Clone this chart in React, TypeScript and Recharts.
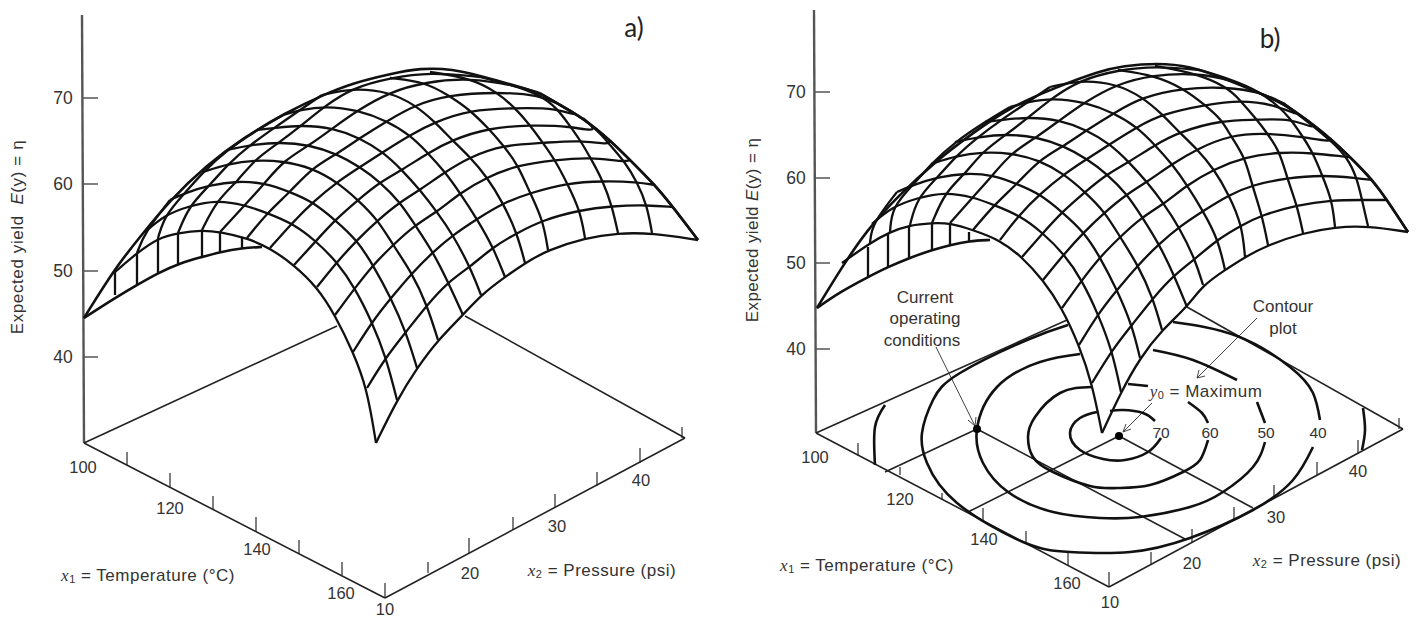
import { ComposedChart, Line, Scatter, XAxis, YAxis } from "recharts";

const WIDTH = 1424;
const HEIGHT = 619;

type Pt = number[];

// surface a): each row is one arc from the front-right edge up to the crest
const meshRowsA: Pt[][] = [
  [[376,443],[367,388],[353,352],[335,315],[317,287],[294,265],[270,248],[247,238],[220,232],[202,230],[178,233],[158,238],[137,253],[115,272]],
  [[397,400],[386,357],[372,322],[355,288],[337,262],[316,241],[292,223],[267,213],[245,205],[217,200],[189,206],[165,215],[145,232]],
  [[417,368],[406,332],[391,298],[373,265],[357,240],[335,220],[313,202],[290,192],[265,183],[238,181],[210,185],[185,193],[170,200]],
  [[438,340],[427,305],[412,273],[393,245],[378,220],[358,200],[337,182],[312,168],[283,161],[254,160],[228,164],[203,172]],
  [[463,315],[448,282],[433,252],[415,225],[400,202],[380,182],[360,167],[337,154],[310,145],[280,142],[250,145],[227,150]],
  [[481,295],[470,267],[453,235],[437,212],[420,190],[402,170],[383,152],[360,138],[333,128],[302,125],[274,128],[257,130]],
  [[505,277],[493,247],[477,219],[460,193],[445,172],[428,153],[410,135],[387,121],[358,110],[325,106],[300,110],[283,115]],
  [[525,263],[517,233],[503,203],[487,177],[470,157],[452,140],[435,122],[415,105],[390,92],[352,88],[322,95]],
  [[548,250],[543,220],[530,193],[518,165],[503,145],[488,128],[470,110],[448,95],[425,82],[390,78]],
  [[585,238],[580,210],[567,183],[555,160],[543,143],[530,125],[515,108],[497,92],[470,78],[430,72]],
  [[618,233],[612,206],[603,181],[590,157],[580,140],[570,126],[557,108],[540,95],[513,85],[480,77]],
  [[652,233],[647,205],[637,182],[625,162],[610,145],[600,133],[583,118],[560,105],[540,93]],
  [[698,240],[673,207],[655,185],[630,160],[610,140],[583,118],[560,105]],
];

const meshRowsB: Pt[][] = [
  [[1102,433],[1092,383],[1079,345],[1062,308],[1043,280],[1022,257],[1000,240],[973,230],[950,223],[932,223],[910,225],[890,232],[870,243],[842,263]],
  [[1121,392],[1112,350],[1098,314],[1082,280],[1064,254],[1043,233],[1019,215],[994,205],[973,197],[945,192],[917,198],[892,207],[872,224]],
  [[1140,358],[1132,325],[1117,290],[1100,257],[1084,232],[1062,212],[1040,194],[1017,184],[993,175],[966,173],[938,177],[913,185],[897,192]],
  [[1162,330],[1153,298],[1138,265],[1120,237],[1105,212],[1085,192],[1064,174],[1039,160],[1011,153],[982,152],[956,156],[931,164]],
  [[1187,307],[1174,275],[1159,244],[1142,217],[1127,194],[1107,174],[1087,159],[1064,146],[1037,137],[1007,134],[978,137],[955,142]],
  [[1203,285],[1195,259],[1179,227],[1164,204],[1147,182],[1129,162],[1110,144],[1087,130],[1060,120],[1029,117],[1001,120],[985,122]],
  [[1225,270],[1218,239],[1203,211],[1187,185],[1172,164],[1155,145],[1137,127],[1114,113],[1085,102],[1052,98],[1028,102],[1010,107]],
  [[1245,257],[1242,225],[1229,195],[1214,169],[1197,149],[1179,132],[1162,114],[1142,97],[1117,84],[1080,80],[1050,87]],
  [[1268,245],[1262,215],[1252,185],[1245,157],[1230,135],[1222,120],[1205,105],[1183,88],[1153,75],[1118,70]],
  [[1303,233],[1297,205],[1287,178],[1280,152],[1267,133],[1257,120],[1240,100],[1227,87],[1195,73],[1155,66]],
  [[1335,227],[1332,200],[1322,175],[1313,153],[1303,137],[1290,118],[1277,105],[1260,92],[1233,80],[1200,70]],
  [[1368,226],[1362,200],[1357,178],[1347,157],[1332,142],[1318,130],[1303,118],[1283,103],[1257,92]],
  [[1408,232],[1387,200],[1372,180],[1350,157],[1330,138],[1307,120],[1283,103]],
];

// outer outline and the folded lower lip on the left of each surface
const outlines: Pt[][] = [
  [[84,318],[115,268],[140,237],[170,200],[207,165],[243,138],[287,112],[323,95],[353,83],[390,74],[420,68],[453,69],[480,76],[513,85],[540,93],[560,105],[583,118],[610,140],[630,160],[655,185],[673,207],[698,240]],
  [[84,318],[115,298],[137,285],[158,273],[180,263],[202,257],[220,252],[242,248],[262,247]],
  [[817,308],[842,267],[867,230],[897,197],[937,160],[973,133],[1010,107],[1057,87],[1100,71],[1123,66],[1157,63],[1190,66],[1223,78],[1257,92],[1283,103],[1307,120],[1330,138],[1350,157],[1373,180],[1387,200],[1408,232]],
  [[817,308],[840,292],[868,277],[888,267],[909,258],[932,250],[950,245],[969,241],[990,240]],
];

const foldStrokes: Pt[][] = [
  [[115,272],[115,295]],[[137,253],[137,285]],[[158,238],[158,273]],[[178,233],[178,264]],[[202,230],[202,257]],[[220,232],[220,252]],[[242,238],[242,248]],
  [[868,247],[868,277]],[[888,233],[888,267]],[[909,227],[909,258]],[[932,223],[932,250]],[[950,223],[950,245]],[[969,232],[969,241]],
];

const contours: Pt[][] = [
  [[1097,412],[1080,418],[1070,433],[1080,450],[1103,459],[1125,460],[1148,452],[1161,438]],
  [[1110,411],[1123,410],[1143,413],[1155,421]],
  [[1092,387],[1060,393],[1035,417],[1028,437],[1033,457],[1053,472],[1090,486],[1117,488],[1150,485],[1183,472],[1200,460],[1208,440]],
  [[1128,384],[1148,386]],
  [[1188,402],[1202,413],[1208,423]],
  [[1080,354],[1040,362],[997,387],[977,429],[983,463],[1008,492],[1053,512],[1100,518],[1140,517],[1190,507],[1223,492],[1253,467],[1265,442]],
  [[1153,350],[1193,360],[1237,380]],
  [[1257,402],[1265,423]],
  [[1068,325],[1027,340],[960,373],[933,400],[922,433],[927,463],[957,503],[1023,542],[1070,552],[1130,552],[1190,538],[1253,510],[1293,480],[1313,447]],
  [[1173,322],[1237,336],[1290,367],[1313,393],[1320,420]],
  [[885,405],[875,427],[875,465]],
  [[1363,408],[1365,430],[1362,450]],
];

// ground plane and the measuring axes
const axisLines: Pt[][] = [
  [[82,15],[84,443]],
  [[814,10],[816,433]],
];
const groundLines: Pt[][] = [
  [[84,443],[337,326]],[[465,316],[685,438]],[[84,443],[385,598]],[[385,598],[685,438]],
  [[816,433],[1067,320]],[[1187,307],[1403,429]],[[816,433],[1109,587]],[[1109,587],[1403,429]],
  [[885,472],[977,429]],[[977,429],[1185,539]],[[968,512],[1119,436]],[[1119,436],[1253,508]],
];
const thinLines: Pt[][] = [
  [[936,347],[975,426]],[[1257,318],[1197,378]],[[1152,403],[1123,432]],
  [[1197,378],[1205,376]],[[1197,378],[1199,370]],[[1123,432],[1131,429]],[[1123,432],[1126,424]],[[975,426],[968,420]],[[975,426],[976,417]],
];
const tickMarks: Pt[][] = [
  [[83,98],[98,98]],[[83,184],[98,184]],[[83,271],[98,271]],[[83,357],[98,357]],
  [[127,452],[127,465]],[[170,473],[170,488]],[[213,496],[213,509]],[[256,517],[256,532]],[[299,540],[299,553]],[[342,562],[342,575]],[[385,583],[385,598]],
  [[428,562],[428,573]],[[469,538],[469,553]],[[513,517],[513,530]],[[555,494],[555,508]],[[597,472],[597,486]],[[640,448],[640,463]],[[682,427],[682,438]],
  [[815,92],[830,92]],[[815,178],[830,178]],[[815,263],[830,263]],[[815,349],[830,349]],
  [[858,443],[858,456]],[[900,467],[900,475]],[[942,493],[942,500]],[[983,508],[983,522]],[[1026,531],[1026,543]],[[1068,552],[1068,565]],[[1109,572],[1109,587]],
  [[1151,552],[1151,565]],[[1192,529],[1192,542]],[[1234,507],[1234,520]],[[1274,485],[1274,498]],[[1317,462],[1317,475]],[[1358,440],[1358,453]],[[1399,418],[1399,429]],
];

const markedPoints = [{ x: 977, y: 429 }, { x: 1119, y: 436 }];

const yieldTicks = [
  { x: 63, y: 98, text: "70" },{ x: 63, y: 184, text: "60" },{ x: 63, y: 271, text: "50" },{ x: 63, y: 357, text: "40" },
  { x: 796, y: 92, text: "70" },{ x: 796, y: 178, text: "60" },{ x: 796, y: 263, text: "50" },{ x: 796, y: 349, text: "40" },
];
const axisTicks = [
  { x: 83, y: 467, text: "100" },{ x: 170, y: 508, text: "120" },{ x: 257, y: 549, text: "140" },{ x: 341, y: 593, text: "160" },
  { x: 385, y: 609, text: "10" },{ x: 470, y: 573, text: "20" },{ x: 557, y: 526, text: "30" },{ x: 641, y: 480, text: "40" },
  { x: 815, y: 457, text: "100" },{ x: 900, y: 499, text: "120" },{ x: 984, y: 539, text: "140" },{ x: 1067, y: 583, text: "160" },
  { x: 1110, y: 602, text: "10" },{ x: 1192, y: 563, text: "20" },{ x: 1276, y: 517, text: "30" },{ x: 1358, y: 471, text: "40" },
];
const contourLevels = [
  { x: 1161, y: 432, text: "70" },{ x: 1210, y: 432, text: "60" },{ x: 1266, y: 432, text: "50" },{ x: 1318, y: 432, text: "40" },
];
const notes = [
  { x: 925, y: 297, text: "Current" },{ x: 925, y: 318, text: "operating" },{ x: 922, y: 340, text: "conditions" },
  { x: 1283, y: 306, text: "Contour" },{ x: 1283, y: 328, text: "plot" },
];
const panelTags = [{ x: 634, y: 27, text: "a)" },{ x: 1270, y: 38, text: "b)" }];
const richLabels = [
  { x: 148, y: 575, text: "x1" },{ x: 602, y: 570, text: "x2" },
  { x: 867, y: 565, text: "x1" },{ x: 1327, y: 560, text: "x2" },
  { x: 1206, y: 391, text: "y0" },
  { x: 17, y: 237, text: "ya" },{ x: 752, y: 230, text: "yb" },
];

const toPts = (line: Pt[]) => line.map(([x, y]) => ({ x, y }));

const meshColumns = (rows: Pt[][]) => {
  const count = Math.max(...rows.map((row) => row.length));
  const columns: Pt[][] = [];
  for (let j = 0; j < count; j++) {
    const column = rows.filter((row) => row[j]).map((row) => row[j]);
    if (column.length > 1) columns.push(column);
  }
  return columns;
};

const INK = "#333";
const FONT = "'Liberation Sans', Arial, sans-serif";

function PlainText(size: number, fill = INK, family = FONT) {
  return (props: any) => (
    <text
      x={props.cx}
      y={props.cy}
      fontFamily={family}
      fontSize={size}
      fill={fill}
      textAnchor="middle"
      dominantBaseline="central"
    >
      {props.payload.text}
    </text>
  );
}

function RichText(props: any) {
  const { cx, cy, payload } = props;
  const common = {
    fontFamily: FONT,
    fill: INK,
    textAnchor: "middle" as const,
    dominantBaseline: "central" as const,
  };
  if (payload.text === "ya" || payload.text === "yb") {
    return (
      <text
        x={cx}
        y={cy}
        fontSize={17}
        letterSpacing={payload.text === "ya" ? 0.6 : 0.4}
        transform={`rotate(-90 ${cx} ${cy})`}
        {...common}
      >
        Expected yield{payload.text === "ya" ? "\u00a0\u00a0" : " "}
        <tspan fontStyle="italic">E</tspan>(y) = η
      </text>
    );
  }
  const sub = payload.text.slice(1);
  const head = payload.text[0];
  let tail = " = Temperature (°C)";
  if (payload.text === "x2") tail = " = Pressure (psi)";
  if (payload.text === "y0") tail = " = Maximum";
  return (
    <text x={cx} y={cy} fontSize={17} letterSpacing={0.5} {...common}>
      <tspan fontStyle="italic" fontFamily="'Liberation Serif', serif">{head}</tspan>
      <tspan dy={4} fontSize={11}>{sub}</tspan>
      <tspan dy={-4}>{tail}</tspan>
    </text>
  );
}

const Dot = (props: any) => <circle cx={props.cx} cy={props.cy} r={4} fill="#000" />;

function drawLines(lines: Pt[][], name: string, stroke: string, width: number, curve: "natural" | "linear" | "basis") {
  return lines.map((line, index) => (
    <Line
      key={`${name}-${index}`}
      data={toPts(line)}
      dataKey="y"
      type={curve}
      stroke={stroke}
      strokeWidth={width}
      dot={false}
      activeDot={false}
      isAnimationActive={false}
    />
  ));
}

export default function App() {
  return (
    <div style={{ position: "absolute", left: 0, top: 0, width: WIDTH, height: HEIGHT, background: "#fff" }}>
      <ComposedChart width={WIDTH} height={HEIGHT} margin={{ top: 0, right: 0, bottom: 0, left: 0 }}>
        <XAxis type="number" dataKey="x" domain={[0, WIDTH]} hide allowDataOverflow />
        <YAxis type="number" dataKey="y" domain={[0, HEIGHT]} reversed hide allowDataOverflow />

        {drawLines(axisLines, "axis", "#555", 2.4, "linear")}
        {drawLines(tickMarks, "tick", "#555", 1.5, "linear")}
        {drawLines(groundLines, "ground", "#222", 1.6, "linear")}
        {drawLines(thinLines, "thin", "#444", 1, "linear")}
        {drawLines(contours, "contour", "#111", 2.6, "natural")}

        {drawLines(meshRowsA, "rowA", "#111", 2.3, "basis")}
        {drawLines(meshColumns(meshRowsA), "colA", "#111", 2.3, "basis")}
        {drawLines(meshRowsB, "rowB", "#111", 2.3, "basis")}
        {drawLines(meshColumns(meshRowsB), "colB", "#111", 2.3, "basis")}
        {drawLines(outlines, "outline", "#111", 2.6, "basis")}
        {drawLines(foldStrokes, "fold", "#111", 2.3, "linear")}

        <Scatter data={markedPoints} shape={Dot} isAnimationActive={false} />
        <Scatter data={yieldTicks} shape={PlainText(17.5)} isAnimationActive={false} />
        <Scatter data={axisTicks} shape={PlainText(16.5)} isAnimationActive={false} />
        <Scatter data={contourLevels} shape={PlainText(15.5)} isAnimationActive={false} />
        <Scatter data={notes} shape={PlainText(17)} isAnimationActive={false} />
        <Scatter data={panelTags} shape={PlainText(26, "#222", "Lato, 'Open Sans', sans-serif")} isAnimationActive={false} />
        <Scatter data={richLabels} shape={RichText} isAnimationActive={false} />
      </ComposedChart>
    </div>
  );
}
